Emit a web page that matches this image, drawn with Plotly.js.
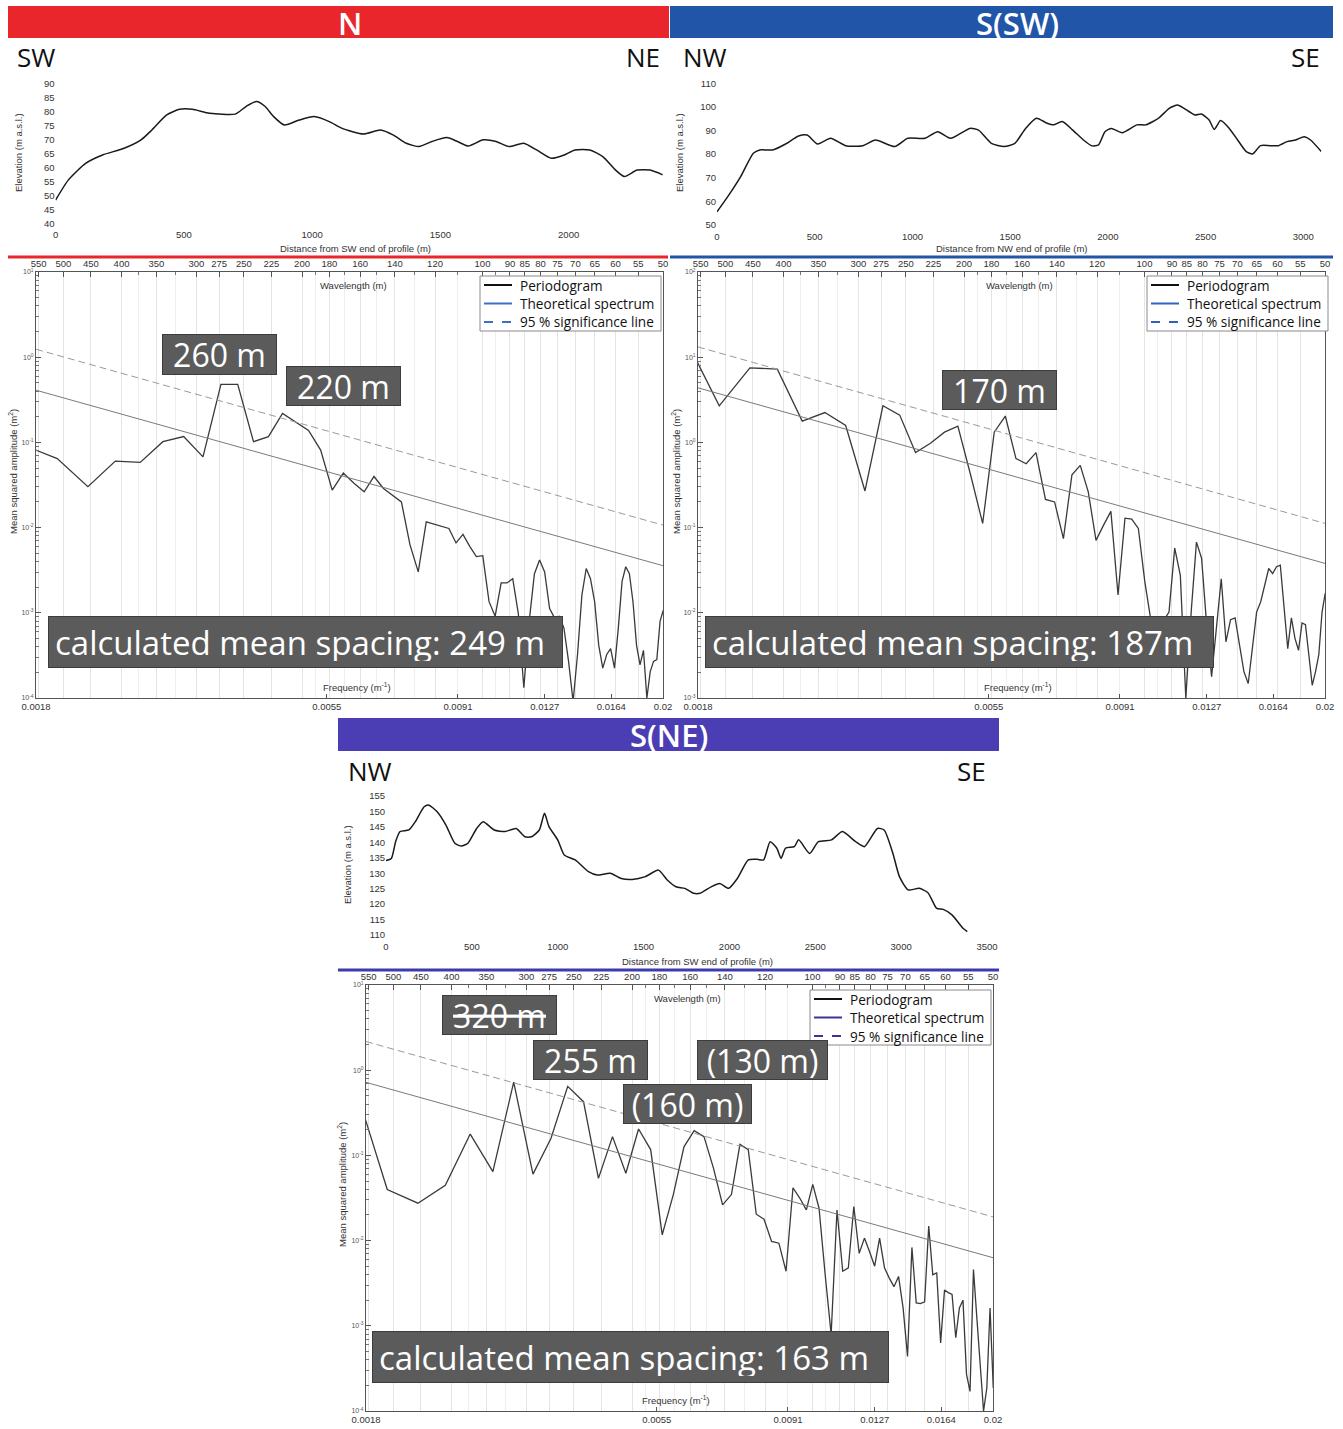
<!DOCTYPE html>
<html>
<head>
<meta charset="utf-8">
<script src="https://cdn.plot.ly/plotly-3.0.1.min.js"></script>
<style>
html,body{margin:0;padding:0;background:#fff;overflow:hidden}
#chart{width:1343px;height:1429px}
</style>
</head>
<body>
<div id="chart"></div>
<script>
// ---------------- DATA ----------------
// Elevation profiles (distance m, elevation m a.s.l.)
const profN_dist = [0,50,117,183,267,333,375,433,483,533,600,700,742,783,817,850,892,950,1008,1067,1117,1200,1267,1317,1367,1417,1467,1525,1567,1608,1667,1717,1767,1825,1875,1933,1983,2025,2083,2133,2183,2217,2267,2317,2367];
const profN_elev = [48.3,55.5,61.4,64.4,66.8,69.8,73.3,78.7,80.7,80.7,79.3,79.0,81.7,83.5,81.7,78.1,75.1,76.9,78.1,76.3,73.9,71.9,73.3,71.5,68.6,67.4,69.2,70.6,69.2,67.6,69.8,69.2,67.4,68.6,66.2,63.2,64.4,66.2,66.2,63.8,59.0,56.7,59.0,59.0,57.3];

const profSSW_dist = [0,55,121,186,219,285,351,417,461,515,581,658,746,811,910,976,1064,1129,1195,1294,1338,1404,1469,1524,1579,1634,1689,1722,1766,1820,1875,1919,1952,1985,2018,2073,2149,2193,2259,2314,2357,2390,2445,2478,2518,2544,2577,2621,2664,2708,2741,2781,2829,2873,2917,2961,3004,3037,3092];
const profSSW_elev = [55.6,62.0,70.5,80.4,81.8,81.8,84.3,87.7,88.1,84.3,86.7,83.6,83.6,86.0,83.2,86.7,86.7,89.5,86.7,90.9,90.2,84.6,83.2,84.6,90.9,95.2,93.1,92.4,93.8,90.2,86.0,83.5,83.9,89.5,90.9,89.1,92.4,92.4,95.2,99.4,100.8,99.4,96.6,97.0,94.5,90.5,94.2,90.9,86.0,81.1,80.1,83.6,83.6,83.6,85.3,86.0,87.4,86.0,81.1];

const profSNE_dist = [0,31,56,82,133,171,222,247,298,349,401,439,477,528,566,630,694,758,809,847,893,923,949,1000,1038,1102,1179,1230,1306,1370,1434,1510,1587,1638,1689,1740,1791,1829,1893,1944,1995,2046,2110,2161,2199,2237,2276,2301,2327,2378,2403,2467,2518,2594,2658,2735,2786,2862,2901,2952,2990,3041,3105,3156,3207,3245,3296,3360,3385];
const profSNE_elev = [134.1,134.8,140.2,143.5,144.0,146.7,151.5,152.1,149.9,145.6,139.7,138.8,139.7,144.5,146.7,144.0,143.5,144.5,141.8,141.8,144.0,149.4,145.1,140.8,135.9,134.3,130.5,129.4,130.0,128.3,128.0,128.9,131.0,127.8,125.6,125.1,123.5,123.5,125.6,126.7,125.1,128.3,134.3,134.5,134.3,140.2,138.1,134.8,138.1,138.6,140.8,136.4,140.2,140.8,143.5,140.2,138.6,144.5,144.0,136.4,128.9,124.6,125.1,123.7,118.6,118.3,116.5,112.2,111.1];

// Periodogram frequencies (m^-1)
const freq = [0.001709,0.001953,0.002197,0.002441,0.002686,0.002930,0.003174,0.003418,0.003662,0.003906,
  0.004150,0.004395,0.004639,0.004883,0.005127,0.005371,0.005615,0.005859,0.006104,0.006348,
  0.006592,0.006836,0.007080,0.007324,0.007568,0.007813,0.008057,0.008301,0.008545,0.008789,
  0.009033,0.009277,0.009521,0.009766,0.010010,0.010254,0.010498,0.010742,0.010986,0.011230,
  0.011475,0.011719,0.011963,0.012207,0.012451,0.012695,0.012939,0.013184,0.013428,0.013672,
  0.013916,0.014160,0.014404,0.014648,0.014893,0.015137,0.015381,0.015625,0.015869,0.016113,
  0.016357,0.016602,0.016846,0.017090,0.017334,0.017578,0.017822,0.018066,0.018311,0.018555,
  0.018799,0.019043,0.019287,0.019531,0.019775,0.020020];

// Mean squared amplitude (m^2)
const periodN = [0.094,0.0646,0.0302,0.0603,0.0582,0.102,0.117,0.0676,0.479,0.479,
  0.102,0.117,0.219,0.174,0.138,0.0813,0.0275,0.0437,0.0331,0.0263,
  0.0398,0.0288,0.0240,0.0200,0.00631,0.00302,0.0117,0.0110,0.0102,0.00977,
  0.00661,0.00832,0.00603,0.00457,0.00468,0.00135,0.000912,0.00224,0.00224,0.00251,
  0.000977,0.000132,0.000794,0.00288,0.00417,0.00302,0.00112,0.000871,0.000912,0.000661,
  0.000269,0.0000912,0.000324,0.00162,0.00331,0.00251,0.00135,0.000417,0.000224,0.000324,
  0.000380,0.000224,0.000661,0.00234,0.00347,0.00288,0.00135,0.000417,0.000245,0.000363,
  0.000100,0.000204,0.000269,0.000282,0.000794,0.00107];

const periodSSW = [17.4,2.69,7.50,7.24,1.78,2.24,1.58,0.269,2.69,2.09,
  0.759,0.977,1.32,1.55,0.417,0.112,1.32,2.04,0.646,0.562,
  0.759,0.214,0.200,0.0741,0.417,0.537,0.263,0.0708,0.107,0.155,
  0.0162,0.129,0.126,0.0977,0.0234,0.00794,0.00661,0.00794,0.0102,0.0575,
  0.0275,0.001,0.0102,0.0676,0.0437,0.00724,0.00178,0.00661,0.0251,0.00457,
  0.00832,0.00871,0.00417,0.00204,0.00148,0.00417,0.0102,0.0135,0.0214,0.0331,
  0.0288,0.0347,0.0363,0.0112,0.0038,0.00871,0.00501,0.00363,0.00759,0.00724,
  0.00324,0.00141,0.00204,0.00324,0.0102,0.0170];

const periodSNE = [0.81,0.0398,0.0275,0.0447,0.178,0.0646,0.724,0.0603,0.158,0.646,
  0.427,0.0537,0.166,0.0617,0.204,0.117,0.0117,0.0347,0.126,0.195,
  0.166,0.0708,0.0263,0.0347,0.135,0.117,0.0204,0.0178,0.00977,0.00933,
  0.00437,0.0417,0.0316,0.0229,0.0457,0.0240,0.00398,0.000794,0.0229,0.00437,
  0.00479,0.0251,0.00708,0.0107,0.00741,0.00501,0.0107,0.00479,0.00363,0.00288,
  0.0038,0.00162,0.000437,0.00832,0.00186,0.00182,0.00191,0.0148,0.00398,0.00417,
  0.000631,0.00263,0.00245,0.00234,0.000724,0.00162,0.002,0.000269,0.00017,0.00457,
  0.00123,0.000309,0.0001,0.000186,0.00162,0.000186];

// Theoretical spectrum and 95 % significance line (end points)
const lineFreq = [0.0018, 0.02];
const theoN = [0.41, 0.00357];
const sigN = [1.24, 0.0107];
const theoSSW = [4.37, 0.038];
const sigSSW = [13.2, 0.112];
const theoSNE = [0.72, 0.0063];
const sigSNE = [2.17, 0.019];

// Tick labels
const freqTicks = [0.0018, 0.0055, 0.0091, 0.0127, 0.0164, 0.02];
const freqTickText = ['0.0018','0.0055','0.0091','0.0127','0.0164','0.02'];
const wavelengthLabels = [550,500,450,400,350,300,275,250,225,200,180,160,140,120,100,90,85,80,75,70,65,60,55,50];
const wavelengthMinor = [375,325,190,170,150,130,110,95];
const legendNames = ['Periodogram', 'Theoretical spectrum', '95 % significance line'];

// ---------------- LAYOUT ----------------
const W = 1343, H = 1429;
const px = v => v / W;
const py = v => 1 - v / H;
const TICKFONT = {family:'Liberation Sans, Arial, sans-serif', size:9.5, color:'#333'};
const CAL = 'Open Sans, Lato, sans-serif';

const layout = {
  width: W, height: H,
  margin: {l:0, r:0, t:0, b:0},
  paper_bgcolor: '#ffffff',
  plot_bgcolor: 'rgba(0,0,0,0)',
  showlegend: false,
  font: {family:'Liberation Sans, Arial, sans-serif', size:10, color:'#333'},
  shapes: [],
  annotations: []
};
const data = [];

function axId(i){ return i === 1 ? '' : String(i); }

function profilePanel(i, xd, yd, xr, yr, xt, yt, dist, elev){
  layout['xaxis'+axId(i)] = {domain:[px(xd[0]), px(xd[1])], range:xr, anchor:'y'+axId(i),
    tickmode:'array', tickvals:xt, showgrid:false, zeroline:false, showline:false, ticks:'',
    tickfont:TICKFONT, tickangle:0, ticklabelstandoff:4, fixedrange:true};
  layout['yaxis'+axId(i)] = {domain:[py(yd[1]), py(yd[0])], range:yr, anchor:'x'+axId(i),
    tickmode:'array', tickvals:yt, showgrid:false, zeroline:false, showline:false, ticks:'',
    tickfont:TICKFONT, fixedrange:true};
  data.push({type:'scatter', mode:'lines', x:dist, y:elev, xaxis:'x'+axId(i), yaxis:'y'+axId(i),
    line:{color:'#1a1a1a', width:1.5, shape:'spline', smoothing:0.6}, showlegend:false, hoverinfo:'skip'});
}

function steps(a, b, s){ const r=[]; for(let v=a; v<=b+1e-9; v+=s) r.push(Math.round(v*100)/100); return r; }

profilePanel(1, [55.6, 662.8], [83.3, 223.3], [0, 2367], [40, 90], [0,500,1000,1500,2000], steps(40,90,5), profN_dist, profN_elev);
profilePanel(2, [717, 1321.3], [83.3, 225], [0, 3092], [50, 110], [0,500,1000,1500,2000,2500,3000], steps(50,110,10), profSSW_dist, profSSW_elev);
profilePanel(3, [386, 987], [796, 935], [0, 3500], [110, 155], [0,500,1000,1500,2000,2500,3000,3500], steps(110,155,5), profSNE_dist, profSNE_elev);

function supPow(e){ return '10<sup>' + e + '</sup>'; }

function spectrumPanel(ib, it, xd, yd, yexp, period, theo, sig){
  const xb = 'xaxis'+ib, yb = 'yaxis'+ib, xt = 'xaxis'+it;
  const lr = [Math.log10(0.0018), Math.log10(0.02)];
  const majors = [], majText = [], minors = [];
  for (let e = yexp[0]; e <= yexp[1]; e++){ majors.push(Math.pow(10,e)); majText.push(supPow(e)); }
  for (let e = yexp[0]; e < yexp[1]; e++){ for (let m=2; m<=9; m++) minors.push(m*Math.pow(10,e)); }
  const wlVals = wavelengthLabels.map(w => 1/w);
  const wlText = wavelengthLabels.map(w => String(w));
  const wlMinor = wavelengthMinor.map(w => 1/w);

  layout[xb] = {domain:[px(xd[0]), px(xd[1])], type:'log', range:lr, anchor:'y'+ib,
    tickmode:'array', tickvals:freqTicks, ticktext:freqTickText, ticks:'inside', ticklen:4, tickcolor:'#555',
    showline:true, linecolor:'#555', linewidth:1, mirror:false, showgrid:false, zeroline:false,
    tickfont:TICKFONT, tickangle:0, fixedrange:true};
  layout[xt] = {type:'log', range:lr, overlaying:'x'+ib, anchor:'y'+ib, side:'top',
    tickmode:'array', tickvals:wlVals, ticktext:wlText, ticks:'inside', ticklen:5, tickcolor:'#555',
    showline:true, linecolor:'#555', linewidth:1, showgrid:true, gridcolor:'#e4e4e4', gridwidth:1,
    zeroline:false, tickfont:TICKFONT, tickangle:0, fixedrange:true,
    minor:{tickmode:'array', tickvals:wlMinor, ticks:'inside', ticklen:3, tickcolor:'#777', showgrid:true, gridcolor:'#eeeeee'}};
  layout[yb] = {domain:[py(yd[1]), py(yd[0])], type:'log', range:yexp, anchor:'x'+ib,
    tickmode:'array', tickvals:majors, ticktext:majText, ticks:'inside', ticklen:5, tickcolor:'#555',
    showline:true, linecolor:'#555', linewidth:1, mirror:true, showgrid:false, zeroline:false,
    tickfont:{family:'Liberation Sans, Arial, sans-serif', size:7, color:'#555'}, fixedrange:true,
    minor:{tickmode:'array', tickvals:minors, ticks:'inside', ticklen:3, tickcolor:'#777', showgrid:false}};

  const ya = 'y'+ib;
  // straight reference lines drawn against the wavelength (top) axis, which shares the frequency scale
  data.push({type:'scatter', mode:'lines', x:lineFreq, y:sig, xaxis:'x'+it, yaxis:ya,
    line:{color:'#9a9a9a', width:1, dash:'7px,4px'}, showlegend:false, hoverinfo:'skip'});
  data.push({type:'scatter', mode:'lines', x:lineFreq, y:theo, xaxis:'x'+it, yaxis:ya,
    line:{color:'#7a7a7a', width:1}, showlegend:false, hoverinfo:'skip'});
  data.push({type:'scatter', mode:'lines', x:freq, y:period, xaxis:'x'+ib, yaxis:ya,
    line:{color:'#3a3a3a', width:1.3}, showlegend:false, hoverinfo:'skip'});
}

spectrumPanel(4, 5, [36, 663], [272, 698], [-4, 1], periodN, theoN, sigN);
spectrumPanel(6, 7, [698, 1325], [272, 698], [-3, 2], periodSSW, theoSSW, sigSSW);
spectrumPanel(8, 9, [366, 993], [985, 1411], [-4, 1], periodSNE, theoSNE, sigSNE);

// Banners and separator lines
function rect(x0, x1, y0, y1, fill, lineColor, layer){
  layout.shapes.push({type:'rect', xref:'paper', yref:'paper', x0:px(x0), x1:px(x1), y0:py(y1), y1:py(y0),
    fillcolor:fill, line:lineColor ? {color:lineColor, width:1} : {width:0}, layer:layer || 'below'});
}
function hline(x0, x1, y, color, width, dash){
  layout.shapes.push({type:'line', xref:'paper', yref:'paper', x0:px(x0), x1:px(x1), y0:py(y), y1:py(y),
    line:{color:color, width:width || 3, dash:dash || 'solid'}, layer:'above'});
}
rect(8, 669, 6, 38, '#e8262b');
rect(670, 1333, 6, 38, '#2155a8');
rect(338, 999, 718, 751, '#4b3db4');
hline(8, 668, 257, '#e8262b');
hline(670, 1333, 257, '#2155a8');
hline(338, 999, 970, '#3e3aae');

function text(x, y, t, size, color, opts){
  layout.annotations.push(Object.assign({xref:'paper', yref:'paper', x:px(x), y:py(y), text:t, showarrow:false,
    xanchor:'center', yanchor:'middle', font:{family:CAL, size:size, color:color}}, opts || {}));
}
// Banner titles
const bannerFont = {family:CAL, size:31, color:'#ffffff', weight:600};
text(350, 23, 'N', 31, '#ffffff', {font:bannerFont});
text(1017, 23, 'S(SW)', 31, '#ffffff', {font:bannerFont});
text(669, 735, 'S(NE)', 31, '#ffffff', {font:bannerFont});
// Direction labels
text(36, 57, 'SW', 26, '#111');
text(643, 57, 'NE', 26, '#111');
text(705, 57, 'NW', 26, '#111');
text(1305, 57, 'SE', 26, '#111');
text(370, 771, 'NW', 26, '#111');
text(971, 771, 'SE', 26, '#111');

// Legends (box, line keys, labels)
function legendBox(x0, y0, keyColor){
  const x1 = x0 + 181, y1 = y0 + 55;
  rect(x0, x1, y0, y1, '#ffffff', '#8a8a8a', 'above');
  const rows = [y0 + 9, y0 + 27.5, y0 + 46];
  const styles = [['#111','solid'], [keyColor,'solid'], [keyColor,'dash']];
  rows.forEach((ry, j) => {
    hline(x0 + 4, x0 + 32, ry, styles[j][0], 2, styles[j][1]);
    text(x0 + 38, ry, legendNames[j], 13.6, '#111', {xanchor:'left'});
  });
}
legendBox(480, 276, '#3c6fc6');
legendBox(1147, 276, '#2f62c0');
legendBox(810, 990, '#3a3496');

const AX = 'Liberation Sans, Arial, sans-serif';
function axTitle(x, y, t, angle){
  layout.annotations.push({xref:'paper', yref:'paper', x:px(x), y:py(y), text:t, showarrow:false,
    xanchor:'center', yanchor:'middle', textangle:angle || 0, font:{family:AX, size:9.5, color:'#333'}});
}
axTitle(18, 153, 'Elevation (m a.s.l.)', -90);
axTitle(679, 153, 'Elevation (m a.s.l.)', -90);
axTitle(347, 865, 'Elevation (m a.s.l.)', -90);
axTitle(355, 249, 'Distance from SW end of profile (m)');
axTitle(1012, 249, 'Distance from NW end of profile (m)');
axTitle(697, 961, 'Distance from SW end of profile (m)');
axTitle(13, 472, 'Mean squared amplitude (m<sup>2</sup>)', -90);
axTitle(676, 472, 'Mean squared amplitude (m<sup>2</sup>)', -90);
axTitle(342, 1185, 'Mean squared amplitude (m<sup>2</sup>)', -90);
axTitle(353, 285, 'Wavelength (m)');
axTitle(1019, 285, 'Wavelength (m)');
axTitle(688, 998, 'Wavelength (m)');
axTitle(357, 687, 'Frequency (m<sup>-1</sup>)');
axTitle(1018, 687, 'Frequency (m<sup>-1</sup>)');
axTitle(676, 1400, 'Frequency (m<sup>-1</sup>)');

// Grey label boxes
function box(x0, x1, y0, y1, t, align, size){
  layout.annotations.push({xref:'paper', yref:'paper', x:px((x0+x1)/2), y:py((y0+y1)/2), text:t, showarrow:false,
    xanchor:'center', yanchor:'middle', width:(x1-x0)-2-(align==='left'?12:0), height:(y1-y0)-2, align:align||'center', valign:'middle',
    borderpad:align==='left'?6:0,
    bgcolor:'#5b5b5b', bordercolor:'#3c3c3c', borderwidth:1, font:{family:CAL, size:size || 32, color:'#ffffff'}});
}
box(162, 277, 334, 375, '260 m');
box(286, 401, 366, 406, '220 m');
box(48, 563, 622, 662, 'calculated mean spacing: 249 m', 'left', 33);
box(942, 1057, 370, 410, '170 m');
box(705, 1214, 622, 662, 'calculated mean spacing: 187m', 'left', 33);
box(442, 557, 995, 1035, '<s>320 m</s>');
box(533, 648, 1040, 1080, '255 m');
box(697, 828, 1040, 1080, '(130 m)');
box(623, 752, 1084, 1124, '(160 m)');
box(372, 889, 1337, 1377, 'calculated mean spacing: 163 m', 'left', 33);

Plotly.newPlot('chart', data, layout, {staticPlot:true, displayModeBar:false});
</script>
</body>
</html>
